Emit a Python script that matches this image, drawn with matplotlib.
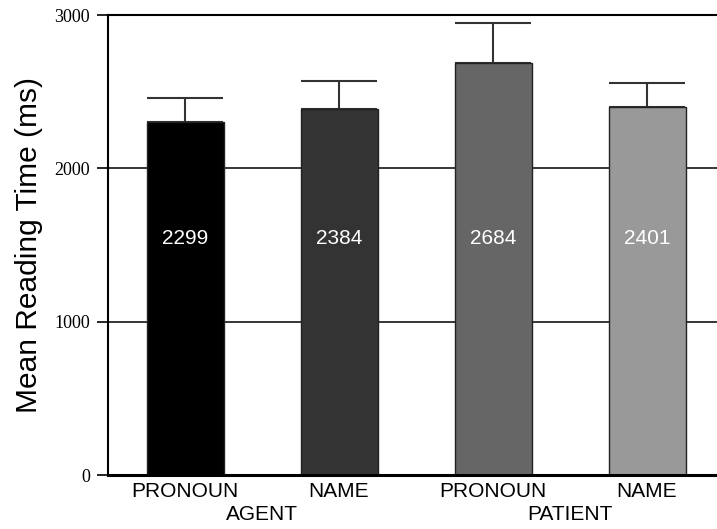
import matplotlib
matplotlib.use("Agg")
import matplotlib.pyplot as plt
import matplotlib.transforms as mtransforms

conditions = ["PRONOUN", "NAME", "PRONOUN", "NAME"]
groups = ["AGENT", "PATIENT"]
means = [2299, 2384, 2684, 2401]
errors = [158, 188, 266, 158]
colors = ["#000000", "#333333", "#666666", "#999999"]
yticks = [0, 1000, 2000, 3000]

fig = plt.figure(figsize=(7.17, 5.29), dpi=100)
ax = fig.add_axes([108/717, 54/529, 616/717, 460/529])

x = list(range(len(means)))
ax.set_axisbelow(True)
for yv in yticks[1:3]:
    ax.axhline(yv, color="black", lw=1.1, zorder=0)

ax.bar(x, means, width=0.5, color=colors, edgecolor="#222222", linewidth=1.0, zorder=2)
ax.errorbar(x, means, yerr=[[0]*len(errors), errors], fmt="none", ecolor="#333333",
            elinewidth=1.5, capsize=27.7, capthick=1.5, zorder=1)

for xi, m in zip(x, means):
    ax.text(xi, 1540, str(m), color="white", ha="center", va="center",
            fontsize=15, family="Liberation Sans", zorder=3)

ax.set_xlim(-0.5, 3.5)
ax.set_ylim(0, 3000)
ax.set_yticks(yticks)
ax.set_yticklabels([str(v) for v in yticks], family="Liberation Serif", fontsize=13)
ax.tick_params(axis="y", length=8, width=1.2, pad=5)
ax.set_xticks(x)
ax.set_xticklabels(conditions, family="Liberation Sans", fontsize=15)
ax.tick_params(axis="x", length=0, pad=5)

ax.spines["right"].set_visible(False)
ax.spines["top"].set_linewidth(1.5)
ax.spines["left"].set_linewidth(1.5)
ax.spines["bottom"].set_linewidth(2.2)

trans = mtransforms.blended_transform_factory(ax.transData, fig.transFigure)
for gi, g in enumerate(groups):
    ax.text(gi*2 + 0.5, 1 - 515/529, g, transform=trans, ha="center", va="center",
            fontsize=15, family="Liberation Sans")

ax.set_ylabel("Mean Reading Time (ms)", family="Liberation Sans", fontsize=21.5, labelpad=8)

fig.savefig("out.png", dpi=100)
